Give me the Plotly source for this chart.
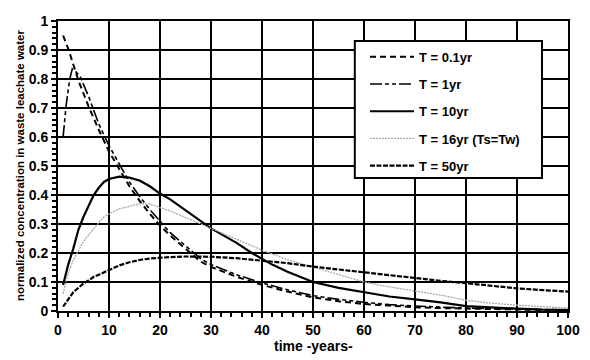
import plotly.graph_objects as go

# T = 0.1 yr
t01_x = [1, 2, 3, 4, 5, 6, 8, 10, 12, 14, 16, 18, 20, 22, 25, 28, 30, 35, 40, 45, 50, 55, 60, 65, 70, 75, 80, 85, 90, 95, 100]
t01_y = [0.95, 0.905, 0.85, 0.795, 0.75, 0.705, 0.625, 0.55, 0.49, 0.43, 0.38, 0.335, 0.295, 0.26, 0.215, 0.17, 0.152, 0.118, 0.09, 0.067, 0.047, 0.034, 0.024, 0.018, 0.013, 0.01, 0.008, 0.006, 0.004, 0.003, 0.002]

# T = 1 yr
t1_x = [1, 1.6, 2.3, 2.8, 3.5, 4.3, 6, 8, 10, 12, 14, 16, 18, 20, 22, 25, 28, 30, 35, 40, 45, 50, 55, 60, 65, 70, 75, 80, 85, 90, 95, 100]
t1_y = [0.60, 0.71, 0.80, 0.835, 0.825, 0.81, 0.74, 0.645, 0.57, 0.505, 0.445, 0.395, 0.35, 0.31, 0.27, 0.225, 0.18, 0.16, 0.125, 0.097, 0.073, 0.053, 0.04, 0.03, 0.022, 0.017, 0.013, 0.01, 0.008, 0.006, 0.005, 0.004]

# T = 10 yr
t10_x = [1, 2, 3, 4, 5, 6, 7, 8, 9, 10, 12, 14, 16, 18, 20, 22, 24, 26, 28, 30, 32, 35, 38, 40, 42, 45, 48, 50, 55, 60, 65, 70, 75, 80, 85, 90, 95, 100]
t10_y = [0.09, 0.16, 0.215, 0.28, 0.325, 0.36, 0.40, 0.425, 0.445, 0.455, 0.463, 0.46, 0.45, 0.43, 0.405, 0.385, 0.36, 0.335, 0.31, 0.285, 0.265, 0.235, 0.2, 0.18, 0.16, 0.135, 0.115, 0.1, 0.08, 0.065, 0.05, 0.04, 0.03, 0.017, 0.012, 0.008, 0.005, 0.004]

# T = 16 yr (Ts=Tw)
t16_x = [1, 2, 3, 4, 5, 6, 7, 8, 9, 10, 12, 14, 16, 18, 20, 22, 24, 26, 28, 30, 35, 40, 45, 50, 55, 60, 65, 70, 75, 80, 85, 90, 95, 100]
t16_y = [0.06, 0.13, 0.175, 0.21, 0.24, 0.262, 0.285, 0.305, 0.325, 0.335, 0.352, 0.362, 0.37, 0.369, 0.358, 0.345, 0.33, 0.315, 0.3, 0.285, 0.245, 0.21, 0.177, 0.152, 0.125, 0.1, 0.083, 0.068, 0.055, 0.037, 0.027, 0.02, 0.014, 0.01]

# T = 50 yr
t50_x = [1, 2, 3, 4, 5, 6, 7, 8, 10, 12, 14, 16, 18, 20, 22, 25, 30, 35, 40, 45, 50, 55, 60, 65, 70, 75, 80, 85, 90, 95, 100]
t50_y = [0.015, 0.04, 0.065, 0.08, 0.095, 0.105, 0.118, 0.125, 0.142, 0.157, 0.168, 0.176, 0.181, 0.184, 0.186, 0.188, 0.187, 0.182, 0.173, 0.165, 0.153, 0.143, 0.133, 0.122, 0.113, 0.104, 0.096, 0.087, 0.078, 0.072, 0.067]

names = ["T = 0.1yr", "T = 1yr", "T = 10yr", "T = 16yr (Ts=Tw)", "T = 50yr"]

x_ticks = [0, 10, 20, 30, 40, 50, 60, 70, 80, 90, 100]
y_ticks = [0, 0.1, 0.2, 0.3, 0.4, 0.5, 0.6, 0.7, 0.8, 0.9, 1]
y_tick_text = ["0", "0.1", "0.2", "0.3", "0.4", "0.5", "0.6", "0.7", "0.8", "0.9", "1"]
x_title = "time -years-"
y_title = "normalized concentration in waste leachate water"

FONT = "Liberation Sans, Arial, sans-serif"

fig = go.Figure()
series = [
    (t01_x, t01_y, dict(color="black", width=2, dash="6px,4px")),
    (t1_x, t1_y, dict(color="black", width=1.6, dash="12px,3px,4px,3px,4px,3px")),
    (t10_x, t10_y, dict(color="black", width=2.2)),
    (t16_x, t16_y, dict(color="#a8a8a8", width=1.3, dash="2px,1px")),
    (t50_x, t50_y, dict(color="black", width=2.2, dash="5px,1.5px")),
]
for i, (xs, ys, ln) in enumerate(series):
    fig.add_trace(go.Scatter(x=xs, y=ys, mode="lines", name=names[i], line=ln,
                             legendgroup=str(i)))

# legend frame (box behind the legend entries)
fig.add_shape(type="rect", xref="paper", yref="paper", x0=0.582, x1=0.949, y0=0.459, y1=0.931,
              fillcolor="white", line=dict(color="black", width=2), layer="above")

# axis titles
fig.add_annotation(text=x_title, xref="paper", yref="paper", x=0.5, y=-0.121,
                   xanchor="center", yanchor="middle", showarrow=False,
                   font=dict(size=14, family=FONT, weight="bold"))
fig.add_annotation(text=y_title, xref="paper", yref="paper", x=-0.0745, y=0.5,
                   xanchor="center", yanchor="middle", showarrow=False, textangle=-90,
                   font=dict(size=11.5, family=FONT, weight="bold"))

fig.update_layout(
    width=590, height=360,
    margin=dict(l=58, r=22, t=21, b=49, autoexpand=False),
    paper_bgcolor="white", plot_bgcolor="white",
    font=dict(family=FONT, color="black", size=12, weight="bold"),
    showlegend=True,
    legend=dict(x=0.602, y=0.928, xanchor="left", yanchor="top",
                bgcolor="rgba(0,0,0,0)", borderwidth=0,
                font=dict(size=13, family=FONT, weight="bold"),
                tracegroupgap=7.3, traceorder="grouped", itemwidth=44),
)
fig.update_xaxes(
    range=[0, 100], tickvals=x_ticks, showgrid=True, gridcolor="black", gridwidth=2,
    showline=True, linecolor="black", linewidth=2, mirror=True,
    ticks="outside", ticklen=5, tickwidth=2, tickcolor="black",
    tickfont=dict(size=14, family=FONT, weight="bold"),
    minor=dict(dtick=2, ticks="outside", ticklen=4, tickwidth=1.5, tickcolor="black", showgrid=False),
    automargin=False, zeroline=False,
)
fig.update_yaxes(
    range=[0, 1], tickvals=y_ticks, ticktext=y_tick_text, showgrid=True, gridcolor="black", gridwidth=2,
    showline=True, linecolor="black", linewidth=2, mirror=True,
    ticks="outside", ticklen=5, tickwidth=2, tickcolor="black",
    tickfont=dict(size=14, family=FONT, weight="bold"),
    minor=dict(dtick=0.02, ticks="outside", ticklen=4, tickwidth=1.5, tickcolor="black", showgrid=False),
    automargin=False, zeroline=False,
)

fig.write_html("out.html", post_script="document.body.style.margin='0';",
               config={"displayModeBar": False})
